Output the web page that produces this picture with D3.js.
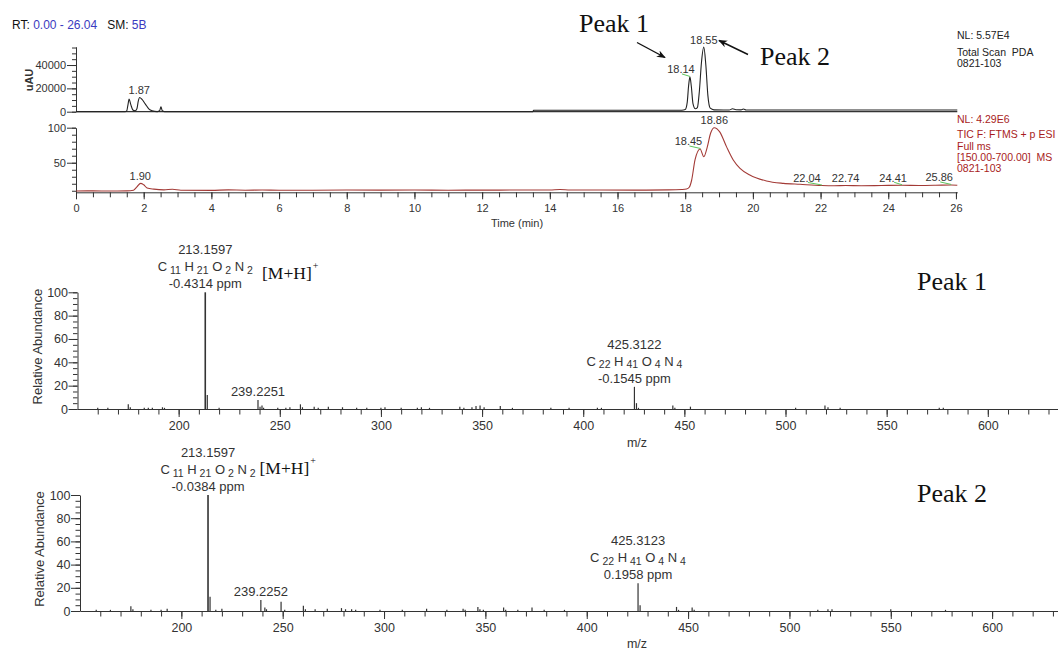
<!DOCTYPE html>
<html><head><meta charset="utf-8">
<script src="https://cdn.jsdelivr.net/npm/d3@7"></script>
<style>
body{margin:0;background:#fff}
svg{display:block;font-family:"Liberation Sans",Arial,sans-serif}
</style>
</head><body>
<script>
// ---------------- DATA ----------------
// Chromatogram x axis
const rtMajorTicks = [0,2,4,6,8,10,12,14,16,18,20,22,24,26];
// PDA total scan trace (time min, uAU)
const pdaTime  = [0,1.45,1.50,1.53,1.57,1.62,1.68,1.75,1.80,1.84,1.88,1.95,2.05,2.15,2.25,2.40,2.47,2.51,2.55,2.62,13.50,13.52,17.90,18.00,18.06,18.10,18.14,18.18,18.23,18.30,18.36,18.42,18.48,18.55,18.61,18.67,18.74,18.85,19.30,19.40,19.50,19.65,19.72,19.80,20.00,26.04];
const pdaValue = [0,0,800,5000,10800,6000,1500,800,2500,9000,12200,10500,6500,2500,800,100,800,4200,800,0,0,1300,1300,1800,8000,22000,29800,22000,7000,2500,3500,18000,42000,55300,40000,14000,3000,1600,1500,2500,1700,1600,2300,1500,1400,1400];
const pdaYMajor = [0,20000,40000];
const pdaLabelRT  = [1.87,18.14,18.55];
const pdaLabelVal = [12200,29800,55300];
// TIC trace (time min, relative abundance)
const ticTime  = [0,0.5,1.0,1.5,1.70,1.80,1.91,2.00,2.10,2.30,2.60,2.85,3.10,4.0,4.5,5.0,5.5,6.0,7.0,8.0,9.0,10.0,11.0,12.0,13.0,14.0,14.3,14.6,15.5,16.5,17.5,17.9,18.04,18.12,18.19,18.29,18.44,18.55,18.65,18.75,18.86,19.02,19.22,19.42,19.62,19.91,20.40,20.90,21.39,22.04,22.40,22.74,23.20,23.80,24.41,24.90,25.40,25.86,26.04];
const ticValue = [9.6,9.8,9.7,9.8,10.8,15.5,20.6,18.5,14,12.3,11.3,12.2,10.8,10.6,11.2,10.8,11.1,10.7,10.8,11,10.9,11,10.8,10.9,11,11.1,11.8,11.1,11,10.9,11.2,11.8,12.5,15,25,54,69.6,58.6,72,92,100,94,73,54,42,32.5,24,20.6,19.2,17.5,17.2,17.5,17.2,17.5,17.8,17.5,17.8,18.3,17.8];
const ticYMajor = [50,100];
const ticLabelRT  = [1.90,18.45,18.86,22.04,22.74,24.41,25.86];
const ticLabelVal = [20.6,69.6,100,17.5,17.5,17.8,18.3];

// Mass spectra
const mzMajorTicks = [200,250,300,350,400,450,500,550,600];
const abundTicks = [0,20,40,60,80,100];
// Peak 1 spectrum
const ms1Mz  = [160,165,175.1,176.1,183,185,187,192,193,213.1597,214.16,220,239.2251,240.23,241.2,242,249,253,255,260.2,261.2,267,269,274,281,288,293,300,302,310,318,320,324,339,341,345,347,349,351,359,365,384,393,407,409,425.3122,426.32,427.3,444.3,445.3,453,505,519.5,521,527,576,578];
const ms1Int = [1,1,4,1.5,1,1,1,1.5,1,100,12,1,7.7,2,3,1,1,1,1.5,4,1.5,2,1,2,1.5,1,1,1,1.5,1,1,1.5,1,2,1,1.5,2.5,3,1.5,2.5,1,1,1,1,1,19,5,1,3,1,2,1,3,1.5,1,1,1];
// Peak 2 spectrum
const ms2Mz  = [158,165,175.1,176.1,185,190,193,213.1597,214.16,217,220,239.2252,241.2,242,249.2,251,260.2,261.2,266,272,279,281,284,286,298,309,321,331,339,340,346.3,347.3,349,359,360,366,373,379,389,425.3123,426.32,444.3,445.3,452,453,514,519,521,550,577];
const ms2Int = [1,1,4,1.5,1,1,2,100,12.3,1,2,9.5,3,1.5,8,1,4.5,1.5,1.5,2,2.5,1.5,1.5,1,1,1,2,1,2,1,3.5,1.5,1,3,1,1,3,1,1,24,5,3.5,1,3,1,1,1.5,1.5,1.5,1];
// Spectrum annotations
const ms1LabelMz   = [213.1597,239.2251,425.3122];
const ms1LabelInt  = [100,7.7,19];
const ms1LabelText = ["213.1597","239.2251","425.3122"];
const ms1Formula   = [[11,21,2,2],null,[22,41,4,4]];
const ms1Ppm       = ["-0.4314 ppm",null,"-0.1545 ppm"];
const ms2LabelMz   = [213.1597,239.2252,425.3123];
const ms2LabelInt  = [100,9.5,24];
const ms2LabelText = ["213.1597","239.2252","425.3123"];
const ms2Formula   = [[11,21,2,2],null,[22,41,4,4]];
const ms2Ppm       = ["-0.0384 ppm",null,"0.1958 ppm"];
const formulaElements = ["C","H","O","N"];

// ---------------- DRAW ----------------
const W = 1058, H = 650;
const svg = d3.select("body").append("svg").attr("width", W).attr("height", H);
const AX = "#333";

function styleAxis(g, fs) {
  g.selectAll("path.domain").attr("stroke", AX).attr("stroke-width", 1);
  g.selectAll(".tick line").attr("stroke", AX).attr("stroke-width", 1);
  g.selectAll(".tick text").attr("fill", AX).style("font-size", fs + "px")
    .style("font-family", '"Liberation Sans",Arial,sans-serif');
}
function drawAxis(axisFn, scale, major, minor, majSize, minSize, pad, fs, tx, ty, fmt) {
  const gMin = svg.append("g").attr("transform", `translate(${tx},${ty})`)
    .call(axisFn(scale).tickValues(minor).tickSize(minSize).tickSizeOuter(0).tickFormat(""));
  gMin.select("path.domain").remove();
  styleAxis(gMin, fs);
  const gMaj = svg.append("g").attr("transform", `translate(${tx},${ty})`)
    .call(axisFn(scale).tickValues(major).tickSize(majSize).tickSizeOuter(0).tickPadding(pad).tickFormat(fmt || d3.format("d")));
  styleAxis(gMaj, fs);
  return gMaj;
}

// Header
const hdr = svg.append("text").attr("x", 12).attr("y", 29).style("font-size", "12px").attr("fill", "#111");
hdr.append("tspan").text("RT: ");
hdr.append("tspan").attr("fill", "#3a3ac0").text("0.00 - 26.04");
hdr.append("tspan").text("\u00a0\u00a0\u00a0SM: ");
hdr.append("tspan").attr("fill", "#3a3ac0").text("5B");

// Chromatogram scales
const xRT  = d3.scaleLinear().domain([0, 26.04]).range([76, 957.3]);
const yPDA = d3.scaleLinear().domain([0, 55700]).range([111.7, 46.7]);
const yTIC = d3.scaleLinear().domain([7.8, 100]).range([192.3, 127.7]);

// PDA y axis
drawAxis(d3.axisLeft, yPDA, pdaYMajor, d3.range(0, 55001, 5000), 9, 4, 1, 11, 76, 0);
svg.append("text").attr("transform", "translate(33,80) rotate(-90)").attr("text-anchor", "middle")
  .style("font-size", "11px").style("font-weight", "bold").attr("fill", AX).text("uAU");
// PDA baseline
svg.append("line").attr("x1", xRT(0)).attr("x2", xRT(26.04)).attr("y1", yPDA(0)).attr("y2", yPDA(0))
  .attr("stroke", AX).attr("stroke-width", 1.2);
// PDA trace
const pdaLine = d3.line().x((d, i) => xRT(pdaTime[i])).y(d => yPDA(d)).curve(d3.curveMonotoneX);
svg.append("path").attr("d", pdaLine(pdaValue)).attr("fill", "none").attr("stroke", "#222").attr("stroke-width", 1.1);

// TIC axes
drawAxis(d3.axisLeft, yTIC, ticYMajor, d3.range(10, 101, 10), 9, 4, 1, 11, 76, 0);
drawAxis(d3.axisBottom, xRT, rtMajorTicks, d3.range(0, 26.01, 0.5), 7, 5, 5, 11, 0, 192.3);
svg.append("text").attr("x", 517).attr("y", 227).attr("text-anchor", "middle")
  .style("font-size", "11px").attr("fill", AX).text("Time (min)");
// TIC trace
const ticLine = d3.line().x((d, i) => xRT(ticTime[i])).y(d => yTIC(d)).curve(d3.curveMonotoneX);
svg.append("path").attr("d", ticLine(ticValue)).attr("fill", "none").attr("stroke", "#a33a36").attr("stroke-width", 1.1);

// Peak labels on chromatograms
function peakLabels(rts, vals, yScale, dxs) {
  rts.forEach((rt, i) => {
    const px = xRT(rt), py = yScale(vals[i]);
    const dx = dxs[i];
    if (dx !== 0) {
      svg.append("line").attr("x1", px + dx + 1).attr("y1", py - 3).attr("x2", px).attr("y2", py - 0.5)
        .attr("stroke", "#5cc45c").attr("stroke-width", 1);
    }
    svg.append("text").attr("x", px + dx).attr("y", py - 3.5).attr("text-anchor", "middle")
      .style("font-size", "11px").attr("fill", AX).text(rt.toFixed(2));
  });
}
peakLabels(pdaLabelRT, pdaLabelVal, yPDA, [0, -9, 0]);
peakLabels(ticLabelRT, ticLabelVal, yTIC, [0, -12, 0, -15, 0, -9, -12]);

// Right-side info text
const info1 = ["NL: 5.57E4", "Total Scan  PDA", "0821-103"];
const info1Y = [39, 55.5, 67];
info1.forEach((t, i) => svg.append("text").attr("x", 957).attr("y", info1Y[i]).style("font-size", "10.5px")
  .attr("fill", "#222").style("white-space", "pre").text(t));
const info2 = ["NL: 4.29E6", "TIC F: FTMS + p ESI", "Full ms", "[150.00-700.00]  MS", "0821-103"];
const info2Y = [123, 138, 149.5, 161, 172];
info2.forEach((t, i) => svg.append("text").attr("x", 957).attr("y", info2Y[i]).style("font-size", "10.5px")
  .attr("fill", "#a81c1c").style("white-space", "pre").text(t));

// Peak annotations with arrows
const defs = svg.append("defs");
defs.append("marker").attr("id", "arr").attr("viewBox", "0 0 10 10").attr("refX", 9).attr("refY", 5)
  .attr("markerWidth", 9).attr("markerHeight", 9).attr("orient", "auto-start-reverse")
  .attr("markerUnits", "userSpaceOnUse")
  .append("path").attr("d", "M0,1 L10,5 L0,9 L3,5 z").attr("fill", "#111");
const serif = '"Liberation Serif","Times New Roman",serif';
svg.append("text").attr("x", 579).attr("y", 32).style("font-family", serif).style("font-size", "26px").attr("fill", "#111").text("Peak 1");
svg.append("text").attr("x", 760).attr("y", 65).style("font-family", serif).style("font-size", "26px").attr("fill", "#111").text("Peak 2");
svg.append("line").attr("x1", 637).attr("y1", 42.5).attr("x2", 665).attr("y2", 57.5)
  .attr("stroke", "#111").attr("stroke-width", 1.4).attr("marker-end", "url(#arr)");
svg.append("line").attr("x1", 748).attr("y1", 54.5).attr("x2", 719).attr("y2", 40.5)
  .attr("stroke", "#111").attr("stroke-width", 1.4).attr("marker-end", "url(#arr)");

// ---------------- MASS SPECTRA ----------------
function spectrum(opt) {
  const x = d3.scaleLinear().domain(opt.xDomain).range(opt.xRange);
  const y = d3.scaleLinear().domain([0, 100]).range(opt.yRange);
  const y0 = opt.yRange[0];
  // y axis
  drawAxis(d3.axisLeft, y, abundTicks, d3.range(0, 101, 5), 9, 4.5, 0.5, 12.5, opt.xRange[0], 0);
  svg.append("text").attr("transform", `translate(${opt.xRange[0] - 36},${(opt.yRange[0] + opt.yRange[1]) / 2 - 4}) rotate(-90)`)
    .attr("text-anchor", "middle").style("font-size", "13px").attr("fill", AX).text("Relative Abundance");
  // x axis
  drawAxis(d3.axisBottom, x, mzMajorTicks, d3.range(160, opt.xDomain[1], 10), 8, 5.5, 4.5, 12.5, 0, y0);
  svg.append("text").attr("x", 637).attr("y", opt.mzY).attr("text-anchor", "middle")
    .style("font-size", "12.5px").attr("fill", AX).text("m/z");
  // bars
  svg.append("g").selectAll("line").data(opt.mz).join("line")
    .attr("x1", d => x(d)).attr("x2", d => x(d))
    .attr("y1", y0).attr("y2", (d, i) => y(opt.int[i]))
    .attr("stroke", "#333").attr("stroke-width", (d, i) => opt.int[i] > 50 ? 1.6 : 1.2);
  // labels
  opt.labMz.forEach((m, i) => {
    const cx = x(m), top = y(opt.labInt[i]);
    const hasF = !!opt.formula[i];
    const lines = hasF ? 3 : 1;
    const base = top - 4 - (lines - 1) * 17;
    svg.append("text").attr("x", cx).attr("y", base).attr("text-anchor", "middle")
      .style("font-size", "13px").attr("fill", AX).text(opt.labText[i]);
    if (hasF) {
      const t = svg.append("text").attr("x", cx).attr("y", base + 17).attr("text-anchor", "middle")
        .style("font-size", "13px").attr("fill", AX).style("white-space", "pre");
      formulaElements.forEach((el, k) => {
        t.append("tspan").attr("dy", k === 0 ? 0 : -2.5).style("font-size", "13px").text((k === 0 ? "" : " ") + el);
        t.append("tspan").attr("dy", 2.5).style("font-size", "10.5px").text(" " + opt.formula[i][k]);
      });
      svg.append("text").attr("x", cx).attr("y", base + 34).attr("text-anchor", "middle")
        .style("font-size", "13px").attr("fill", AX).text(opt.ppm[i]);
    }
  });
  // [M+H]+
  const mh = svg.append("text").attr("x", opt.mhX).attr("y", opt.mhY).style("font-family", serif)
    .style("font-size", "17.5px").attr("fill", "#111");
  mh.append("tspan").text("[M+H]");
  mh.append("tspan").attr("dy", -10).attr("dx", 1).style("font-size", "10px").text("+");
  svg.append("text").attr("x", 917).attr("y", opt.peakY).style("font-family", serif).style("font-size", "26px")
    .attr("fill", "#111").text(opt.peakName);
}

spectrum({xDomain: [150, 634.7], xRange: [77.5, 1058], yRange: [409, 292.3],
  mz: ms1Mz, int: ms1Int, labMz: ms1LabelMz, labInt: ms1LabelInt, labText: ms1LabelText,
  formula: ms1Formula, ppm: ms1Ppm, mzY: 447, mhX: 262, mhY: 278.5, peakY: 290, peakName: "Peak 1"});
spectrum({xDomain: [150, 632.5], xRange: [80, 1058], yRange: [611, 495],
  mz: ms2Mz, int: ms2Int, labMz: ms2LabelMz, labInt: ms2LabelInt, labText: ms2LabelText,
  formula: ms2Formula, ppm: ms2Ppm, mzY: 648, mhX: 259.5, mhY: 473.5, peakY: 502, peakName: "Peak 2"});
</script>
</body></html>
